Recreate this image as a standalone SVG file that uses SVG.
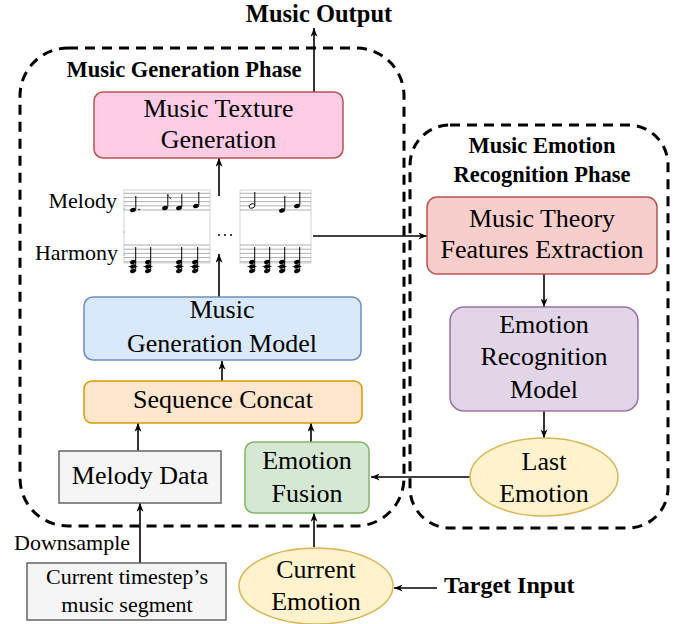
<svg xmlns="http://www.w3.org/2000/svg" width="683" height="624" viewBox="0 0 683 624" font-family="'Liberation Serif', 'Times New Roman', serif">
<style>
text{font-family:'Liberation Serif','Times New Roman',serif;fill:#000}
.t{font-family:'Liberation Serif','Times New Roman',serif;font-size:26px;text-anchor:middle}
.s{font-family:'Liberation Serif','Times New Roman',serif;font-size:22px}
.b{font-family:'Liberation Serif','Times New Roman',serif;font-weight:bold}
.phase{fill:none;stroke:#000;stroke-width:3;stroke-dasharray:10 7}
.ln{stroke:#000;stroke-width:1.6;fill:none}
.staff{stroke:#9a9a9a;stroke-width:0.8}
.frame{fill:#fff;stroke:#d4d4d4;stroke-width:1}
.stem{stroke:#000;stroke-width:1}
</style>
<defs>
<marker id="ah" viewBox="0 0 10 8" refX="10" refY="4" markerWidth="9" markerHeight="7" orient="auto" markerUnits="userSpaceOnUse">
<path d="M0,0 L10,4 L0,8 L3,4 Z" fill="#000"/>
</marker>
<g id="chord">
<ellipse cx="0" cy="262" rx="3" ry="2" transform="rotate(-20 0 262)" fill="#000"/>
<ellipse cx="0" cy="266.5" rx="3" ry="2" transform="rotate(-20 0 266.5)" fill="#000"/>
<ellipse cx="0" cy="271" rx="3" ry="2" transform="rotate(-20 0 271)" fill="#000"/>
<line x1="-4.5" y1="266.5" x2="4.5" y2="266.5" stroke="#000" stroke-width="0.8"/>
<line x1="2.7" y1="271" x2="2.7" y2="247" class="stem"/>
</g>
</defs>

<!-- phase containers -->
<g id="generation-phase">
<rect class="phase" x="20" y="48" width="384" height="478" rx="48" ry="48"/>
<text class="b" x="184" y="77" font-size="22.5" text-anchor="middle">Music Generation Phase</text>
</g>
<g id="recognition-phase">
<rect class="phase" x="410" y="125" width="258" height="403" rx="40" ry="40"/>
<text class="b" x="542" y="153" font-size="22.5" text-anchor="middle">Music Emotion</text>
<text class="b" x="542" y="182" font-size="22.5" text-anchor="middle">Recognition Phase</text>
</g>

<!-- connectors -->
<g id="connectors">
<line class="ln" x1="314" y1="92" x2="314" y2="28" marker-end="url(#ah)"/>
<line class="ln" x1="219" y1="196" x2="219" y2="158" marker-end="url(#ah)"/>
<line class="ln" x1="219" y1="297" x2="219" y2="254" marker-end="url(#ah)"/>
<line class="ln" x1="313" y1="236" x2="427" y2="236" marker-end="url(#ah)"/>
<line class="ln" x1="222" y1="381" x2="222" y2="361" marker-end="url(#ah)"/>
<line class="ln" x1="138" y1="451" x2="138" y2="423" marker-end="url(#ah)"/>
<line class="ln" x1="311" y1="442" x2="311" y2="423" marker-end="url(#ah)"/>
<line class="ln" x1="140" y1="563" x2="140" y2="503" marker-end="url(#ah)"/>
<line class="ln" x1="314" y1="547" x2="314" y2="513" marker-end="url(#ah)"/>
<line class="ln" x1="437" y1="588" x2="394" y2="588" marker-end="url(#ah)"/>
<line class="ln" x1="544" y1="274" x2="544" y2="307" marker-end="url(#ah)"/>
<line class="ln" x1="544" y1="411" x2="544" y2="438" marker-end="url(#ah)"/>
<line class="ln" x1="470" y1="477" x2="371" y2="477" marker-end="url(#ah)"/>
</g>

<g id="music-output">
<text class="b" x="319" y="22" font-size="24.5" text-anchor="middle">Music Output</text>
</g>

<g id="music-texture-generation">
<rect x="94" y="92" width="249" height="66" rx="9" fill="#FFCCE6" stroke="#B85450" stroke-width="1.5"/>
<text class="t" x="218.5" y="117">Music Texture</text>
<text class="t" x="218.5" y="148">Generation</text>
</g>

<g id="scores">
<text class="s" x="117" y="208" text-anchor="end">Melody</text>
<text class="s" x="118" y="260" text-anchor="end">Harmony</text>
<!-- score 1 -->
<rect class="frame" x="124" y="190" width="86" height="73"/>
<g class="staff">
<line x1="124" y1="193.3" x2="210" y2="193.3"/><line x1="124" y1="197.5" x2="210" y2="197.5"/><line x1="124" y1="201.7" x2="210" y2="201.7"/><line x1="124" y1="205.8" x2="210" y2="205.8"/><line x1="124" y1="210" x2="210" y2="210"/>
<line x1="124" y1="245" x2="210" y2="245"/><line x1="124" y1="249.2" x2="210" y2="249.2"/><line x1="124" y1="253.4" x2="210" y2="253.4"/><line x1="124" y1="257.6" x2="210" y2="257.6"/><line x1="124" y1="261.8" x2="210" y2="261.8"/>
</g>
<ellipse cx="133" cy="210" rx="3" ry="2.1" transform="rotate(-20 133 210)" fill="#000"/>
<line class="stem" x1="135.8" y1="209" x2="135.8" y2="196"/>
<circle cx="139" cy="209.5" r="0.8" fill="#000"/>
<ellipse cx="165" cy="208" rx="3" ry="2.1" transform="rotate(-20 165 208)" fill="#000"/>
<line class="stem" x1="167.8" y1="207" x2="167.8" y2="194"/>
<path d="M167.8,194 q1,4 4,6 q-1,-3 -4,-4 z" fill="#000"/>
<ellipse cx="179" cy="208" rx="3" ry="2.1" transform="rotate(-20 179 208)" fill="#000"/>
<line class="stem" x1="181.8" y1="207" x2="181.8" y2="194"/>
<ellipse cx="196" cy="206" rx="3" ry="2.1" transform="rotate(-20 196 206)" fill="#000"/>
<line class="stem" x1="198.8" y1="205" x2="198.8" y2="192"/>
<use href="#chord" x="133"/><use href="#chord" x="148"/><use href="#chord" x="179"/><use href="#chord" x="195"/>
<rect x="123.5" y="208.5" width="1.2" height="1.2" fill="#4fc3f7"/>
<rect x="123.5" y="231.5" width="1.2" height="1.2" fill="#4fc3f7"/>
<rect x="123.5" y="254.5" width="1.2" height="1.2" fill="#4fc3f7"/>
<!-- ellipsis -->
<circle cx="219" cy="235" r="1" fill="#000"/><circle cx="225" cy="235" r="1" fill="#000"/><circle cx="231" cy="235" r="1" fill="#000"/>
<!-- score 2 -->
<rect class="frame" x="240" y="190" width="71" height="73"/>
<g class="staff">
<line x1="240" y1="193.3" x2="311" y2="193.3"/><line x1="240" y1="197.5" x2="311" y2="197.5"/><line x1="240" y1="201.7" x2="311" y2="201.7"/><line x1="240" y1="205.8" x2="311" y2="205.8"/><line x1="240" y1="210" x2="311" y2="210"/>
<line x1="240" y1="245" x2="311" y2="245"/><line x1="240" y1="249.2" x2="311" y2="249.2"/><line x1="240" y1="253.4" x2="311" y2="253.4"/><line x1="240" y1="257.6" x2="311" y2="257.6"/><line x1="240" y1="261.8" x2="311" y2="261.8"/>
</g>
<ellipse cx="252" cy="206" rx="3" ry="2.1" transform="rotate(-20 252 206)" fill="#fff" stroke="#000" stroke-width="0.9"/>
<line class="stem" x1="254.8" y1="205" x2="254.8" y2="192"/>
<ellipse cx="282" cy="210.5" rx="3" ry="2.1" transform="rotate(-20 282 210.5)" fill="#000"/>
<line class="stem" x1="284.8" y1="209.5" x2="284.8" y2="196"/>
<ellipse cx="297" cy="206" rx="3" ry="2.1" transform="rotate(-20 297 206)" fill="#000"/>
<line class="stem" x1="299.8" y1="205" x2="299.8" y2="192"/>
<use href="#chord" x="252"/><use href="#chord" x="267"/><use href="#chord" x="282"/><use href="#chord" x="297"/>
</g>

<g id="music-generation-model">
<rect x="84" y="297" width="277" height="63" rx="9" fill="#DAE8FC" stroke="#6C8EBF" stroke-width="1.5"/>
<text class="t" x="222" y="318">Music</text>
<text class="t" x="222" y="352">Generation Model</text>
</g>

<g id="sequence-concat">
<rect x="84" y="381" width="278" height="42" rx="8" fill="#FFE6CC" stroke="#D79B00" stroke-width="1.5"/>
<text class="t" x="223" y="408">Sequence Concat</text>
</g>

<g id="melody-data">
<rect x="59" y="451" width="162" height="52" fill="#F5F5F5" stroke="#666666" stroke-width="1.5"/>
<text class="t" x="140" y="484">Melody Data</text>
</g>

<g id="emotion-fusion">
<rect x="245" y="442" width="124" height="71" rx="9" fill="#D5E8D4" stroke="#82B366" stroke-width="1.5"/>
<text class="t" x="307" y="469">Emotion</text>
<text class="t" x="307" y="502">Fusion</text>
</g>

<g id="downsample-label">
<text class="s" x="14" y="550">Downsample</text>
</g>

<g id="current-segment">
<rect x="27" y="563" width="199" height="57" fill="#F5F5F5" stroke="#666666" stroke-width="1.5"/>
<text class="s" x="127" y="584" text-anchor="middle">Current timestep’s</text>
<text class="s" x="127" y="612" text-anchor="middle">music segment</text>
</g>

<g id="current-emotion">
<ellipse cx="316" cy="586" rx="77" ry="38" fill="#FFF2CC" stroke="#D6B656" stroke-width="1.5"/>
<text class="t" x="316" y="578">Current</text>
<text class="t" x="316" y="610">Emotion</text>
</g>

<g id="target-input">
<text class="b" x="444" y="593" font-size="24">Target Input</text>
</g>

<g id="music-theory-features">
<rect x="427" y="197" width="230" height="77" rx="10" fill="#F8CECC" stroke="#B85450" stroke-width="1.5"/>
<text class="t" x="542" y="227">Music Theory</text>
<text class="t" x="542" y="258">Features Extraction</text>
</g>

<g id="emotion-recognition-model">
<rect x="450" y="307" width="188" height="104" rx="14" fill="#E1D5E7" stroke="#9673A6" stroke-width="1.5"/>
<text class="t" x="544" y="333">Emotion</text>
<text class="t" x="544" y="365">Recognition</text>
<text class="t" x="544" y="398">Model</text>
</g>

<g id="last-emotion">
<ellipse cx="544" cy="477" rx="74" ry="39" fill="#FFF2CC" stroke="#D6B656" stroke-width="1.5"/>
<text class="t" x="544" y="470">Last</text>
<text class="t" x="544" y="502">Emotion</text>
</g>
</svg>
